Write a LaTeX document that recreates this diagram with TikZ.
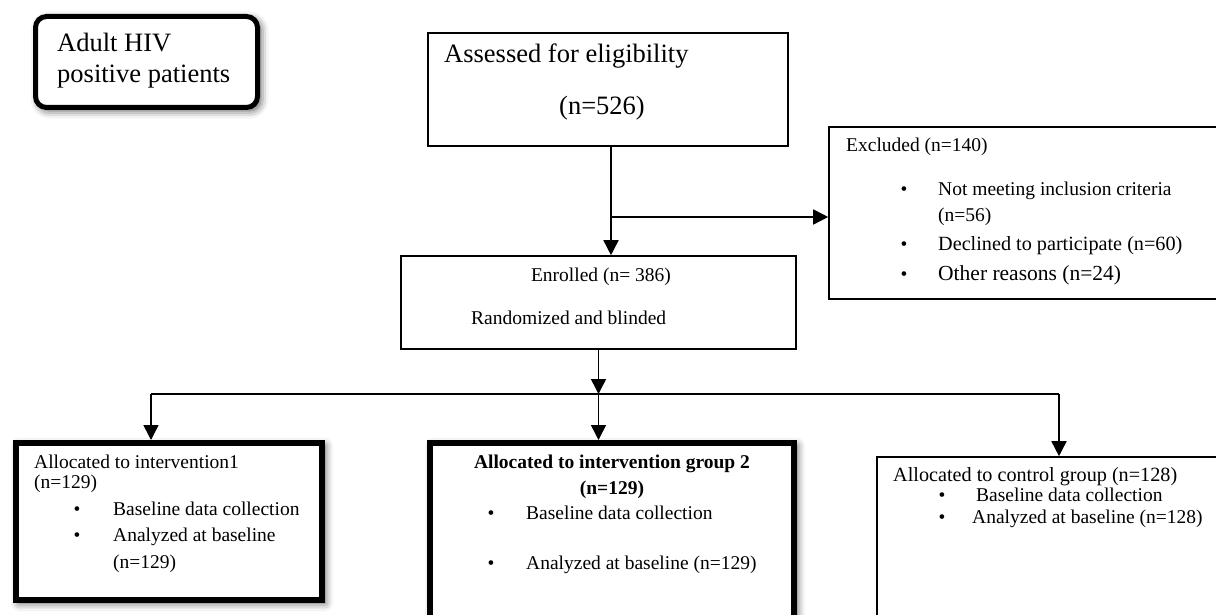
\documentclass[tikz,border=0pt]{standalone}
\usepackage{fontspec}
\setmainfont{Liberation Serif}
\usetikzlibrary{arrows.meta,shadows.blur}
\begin{document}
\begin{tikzpicture}[x=1pt,y=-1pt,
  thinbox/.style={draw, line width=1.6pt, rectangle, inner sep=0pt, fill=white},
  thickbox/.style={draw, line width=6pt, rectangle, inner sep=0pt, fill=white,
    blur shadow={shadow xshift=3pt, shadow yshift=-3pt, shadow blur radius=8pt, shadow opacity=70}},
  arr/.style={line width=1.6pt, -{Triangle[width=15pt,length=15pt]}},
  ln/.style={line width=1.6pt},
  t/.style={anchor=base west, inner sep=0pt, font=\fontsize{19.5}{22}\selectfont},
  tc/.style={anchor=base, inner sep=0pt, font=\fontsize{19.5}{22}\selectfont},
  tcb/.style={anchor=base, inner sep=0pt, font=\fontsize{19.5}{22}\selectfont\bfseries},
  big/.style={anchor=base west, inner sep=0pt, font=\fontsize{26.5}{30}\selectfont},
  bigc/.style={anchor=base, inner sep=0pt, font=\fontsize{26.5}{30}\selectfont},
  bul/.style={anchor=base, inner sep=0pt, font=\fontsize{19.5}{22}\selectfont},
]
\useasboundingbox (0,0) rectangle (1216,615);

% boxes
\node[draw, line width=5pt, rounded corners=11pt, fill=white, inner sep=0pt,
  minimum width=222pt, minimum height=91pt,
  blur shadow={shadow xshift=3pt, shadow yshift=-3pt, shadow blur radius=8pt, shadow opacity=70}]
  (adult) at (146.5,62) {};
\node[thinbox, minimum width=360pt, minimum height=113pt] (assess) at (608,89.5) {};
\node[thinbox, minimum width=395pt, minimum height=93pt] (enrol) at (598.5,302.5) {};
\node[thinbox, minimum width=411pt, minimum height=172pt] (excl) at (1034.5,213) {};
\node[thickbox, minimum width=306pt, minimum height=157pt] (box1) at (169,521.5) {};
\node[thickbox, minimum width=364pt, minimum height=187pt] (box2) at (612,536.5) {};
\node[thinbox, minimum width=363pt, minimum height=193pt] (box3) at (1058.5,553.5) {};

% texts
\node[big] (adult1) at (57,52) {Adult HIV};
\node[big] (adult2) at (57,83) {positive patients};

\node[big] (as1) at (444,63) {Assessed for eligibility};
\node[bigc] (as2) at (602,115) {(n=526)};

\node[t] (ex0) at (846,152) {Excluded (n=140)};
\node[bul] (exb1) at (904,196) {•};
\node[t] (ex1) at (938,196) {Not meeting inclusion criteria};
\node[t] (ex1b) at (938,222) {(n=56)};
\node[bul] (exb2) at (904,250) {•};
\node[t, font=\fontsize{20.2}{23}\selectfont] (ex2) at (938,250) {Declined to participate (n=60)};
\node[bul] (exb3) at (904,280) {•};
\node[t, font=\fontsize{21.5}{24}\selectfont] (ex3) at (938,280) {Other reasons (n=24)};

\node[tc] (en1) at (601,281) {Enrolled (n= 386)};
\node[t] (en2) at (471,324) {Randomized and blinded};

\node[t] (b1a) at (34,468) {Allocated to intervention1};
\node[t] (b1b) at (34,488) {(n=129)};
\node[bul] (b1u1) at (77,515) {•};
\node[t] (b1c) at (113,515) {Baseline data collection};
\node[bul] (b1u2) at (77,541) {•};
\node[t] (b1d) at (113,541) {Analyzed at baseline};
\node[t] (b1e) at (113,568) {(n=129)};

\node[tcb] (b2a) at (612,468) {Allocated to intervention group 2};
\node[tcb] (b2b) at (612,494) {(n=129)};
\node[bul] (b2u1) at (491,519) {•};
\node[t] (b2c) at (526,519) {Baseline data collection};
\node[bul] (b2u2) at (491,569) {•};
\node[t] (b2d) at (526,569) {Analyzed at baseline (n=129)};

\node[t, font=\fontsize{20.2}{23}\selectfont] (b3a) at (893,481) {Allocated to control group (n=128)};
\node[bul] (b3u1) at (942,501) {•};
\node[t] (b3b) at (976,501) {Baseline data collection};
\node[bul] (b3u2) at (942,523) {•};
\node[t] (b3c) at (972,523) {Analyzed at baseline (n=128)};

% connectors
\coordinate (c1) at (611,217);
\coordinate (c2) at (598.5,394);
\coordinate (L) at (151,394);
\coordinate (R) at (1059,394);
\draw[arr] (assess.south -| c1) -- (enrol.north -| c1);
\draw[arr] (c1) -- (excl.west |- c1);
\draw[arr] (enrol.south -| c2) -- (c2);
\draw[ln] (L) -- (R);
\draw[arr] (L) -- (box1.north -| L);
\draw[arr] (c2) -- (box2.north -| c2);
\draw[arr] (R) -- (box3.north -| R);
\end{tikzpicture}
\end{document}
